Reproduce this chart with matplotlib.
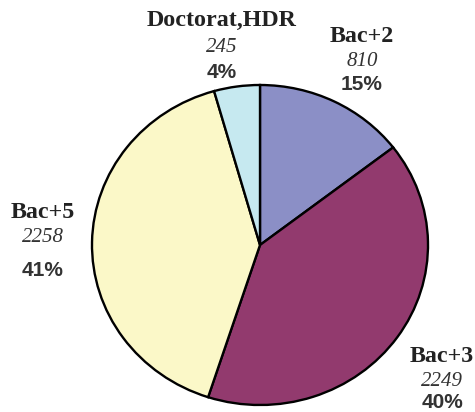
import matplotlib
matplotlib.use("Agg")
import matplotlib.pyplot as plt

labels = ["Bac+2", "Bac+3", "Bac+5", "Doctorat,HDR"]
values = [810, 2249, 2258, 245]
percents = ["15%", "40%", "41%", "4%"]
colors = ["#8b8fc6", "#923a6e", "#fbf8c8", "#c6e9f0"]

W, H = 475, 412
fig = plt.figure(figsize=(W / 100, H / 100), dpi=100)
ax = fig.add_axes([0, 0, 1, 1])

# pie is slightly elliptical in the reference
cx, cy = 260, 245      # pixel centre (from top)
rx, ry = 168, 160      # pixel radii
ax.pie(values, colors=colors, startangle=90, counterclock=False,
       center=(0, 0), radius=1, frame=True,
       wedgeprops=dict(edgecolor="black", linewidth=1.7))
ax.set_aspect("auto")
ax.set_xlim(-cx / rx, (W - cx) / rx)
ax.set_ylim(-(H - cy) / ry, cy / ry)
ax.axis("off")

# label positions (pixel coords from top)
pos = {
    "Bac+2": (362, 37, 61, 85),
    "Bac+3": (442, 357, 381, 402),
    "Bac+5": (43, 213, 238, 271),
    "Doctorat,HDR": (222, 20, 48, 72),
}
for lab, val, pct in zip(labels, values, percents):
    x, y1, y2, y3 = pos[lab]
    fx = x / W
    fig.text(fx, 1 - y1 / H, lab, ha="center", va="center", fontsize=17.3,
             fontweight="bold", family="Liberation Serif", color="#222222")
    fig.text(fx, 1 - y2 / H, str(val), ha="center", va="center", fontsize=15,
             style="italic", family="Liberation Serif", color="#333333")
    fig.text(fx, 1 - y3 / H, pct, ha="center", va="center", fontsize=15,
             fontweight="bold", family="Liberation Sans", color="#333333")

fig.savefig("out.png", dpi=100)
